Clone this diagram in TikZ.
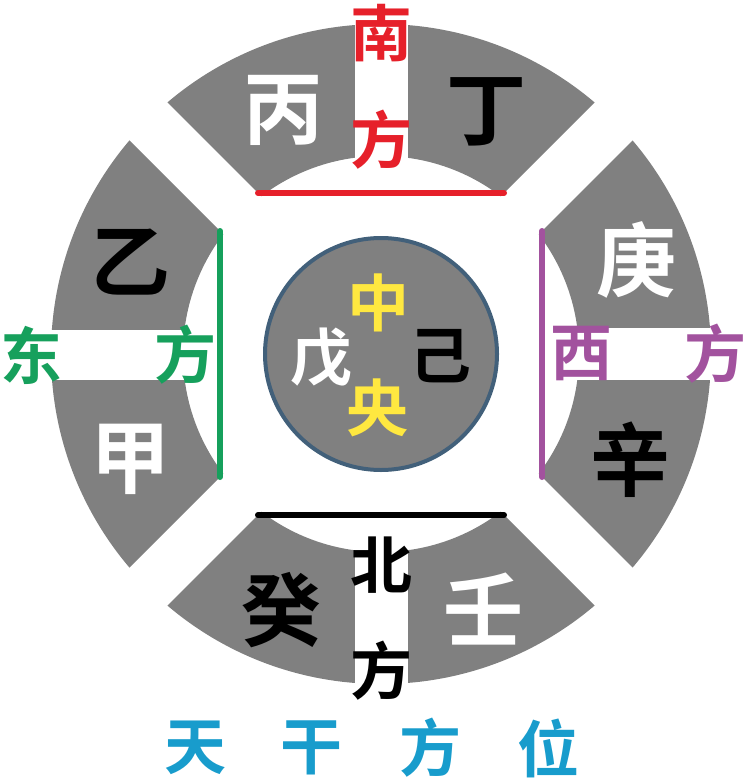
\documentclass[tikz,border=0pt]{standalone}
\usepackage{fontspec}
\setmainfont{Noto Sans CJK SC}[BoldFont={* Bold}]
\usetikzlibrary{positioning}
\definecolor{sectorgray}{RGB}{128,128,128}
\definecolor{rimblue}{RGB}{66,96,122}
\definecolor{southred}{RGB}{230,32,42}
\definecolor{eastgreen}{RGB}{22,160,92}
\definecolor{westpurple}{RGB}{162,82,158}
\definecolor{centeryellow}{RGB}{255,232,64}
\definecolor{titlecyan}{RGB}{24,156,204}
\tikzset{
	stem/.style={font=\bfseries\fontsize{80}{80}\selectfont, inner sep=0pt},
	dirlabel/.style={font=\bfseries\fontsize{62}{62}\selectfont, inner sep=0pt},
}

\begin{document}
\begin{tikzpicture}[x=1pt, y=-1pt]
\useasboundingbox (0,0) rectangle (750,781);
\coordinate (O) at (381,354);
\foreach \a/\c in {0/southred, 90/eastgreen, 180/black, 270/westpurple} {
	\begin{scope}[shift={(O)}, rotate=\a]
		\begin{scope}
			\clip (0,-38) -- (-440,-478) -- (440,-478) -- cycle;
			\fill[sectorgray, even odd rule] (0,0) circle (330) (0,0) circle (198);
		\end{scope}
		\draw[\c, line width=6pt, line cap=round] (-123,-161) -- (123,-161);
	\end{scope}
}
\fill[white] (355,0) rectangle (408,170);
\fill[white] (355,537) rectangle (408,702);
\fill[white] (0,330) rectangle (216,380);
\fill[white] (553,328) rectangle (745,380);
\node[circle, draw=rimblue, line width=4pt, fill=sectorgray, minimum size=232pt] (center) at (O) {};
\foreach \t/\x/\y/\c [count=\i] in {丙/283/110/white, 丁/486/112/black, 乙/130/262/black, 甲/130/459/white, 庚/636/260/white, 辛/630/460/black, 癸/281/610/black, 壬/483/609/white}
	\node[stem, text=\c] (stem \i) at (\x, \y) {\t};
\foreach \t/\x/\y/\c [count=\i] in {戊/321/358/white, 己/440/356/black, 中/378/303/centeryellow, 央/377/408/centeryellow}
	\node[dirlabel, text=\c] (mid \i) at (\x, \y) {\t};
\foreach \t/\x/\y/\c [count=\i] in {南/381/33/southred, 方/381/140/southred, 东/32/355/eastgreen, 方/185/355/eastgreen, 西/581/354/westpurple, 方/715/354/westpurple, 北/381/565/black, 方/381/671/black}
	\node[dirlabel, text=\c] (dir \i) at (\x, \y) {\t};
\foreach \t/\x [count=\i] in {天/195, 干/311, 方/430, 位/548}
	\node[dirlabel, text=titlecyan] (title \i) at (\x, 748) {\t};
\end{tikzpicture}
\end{document}
